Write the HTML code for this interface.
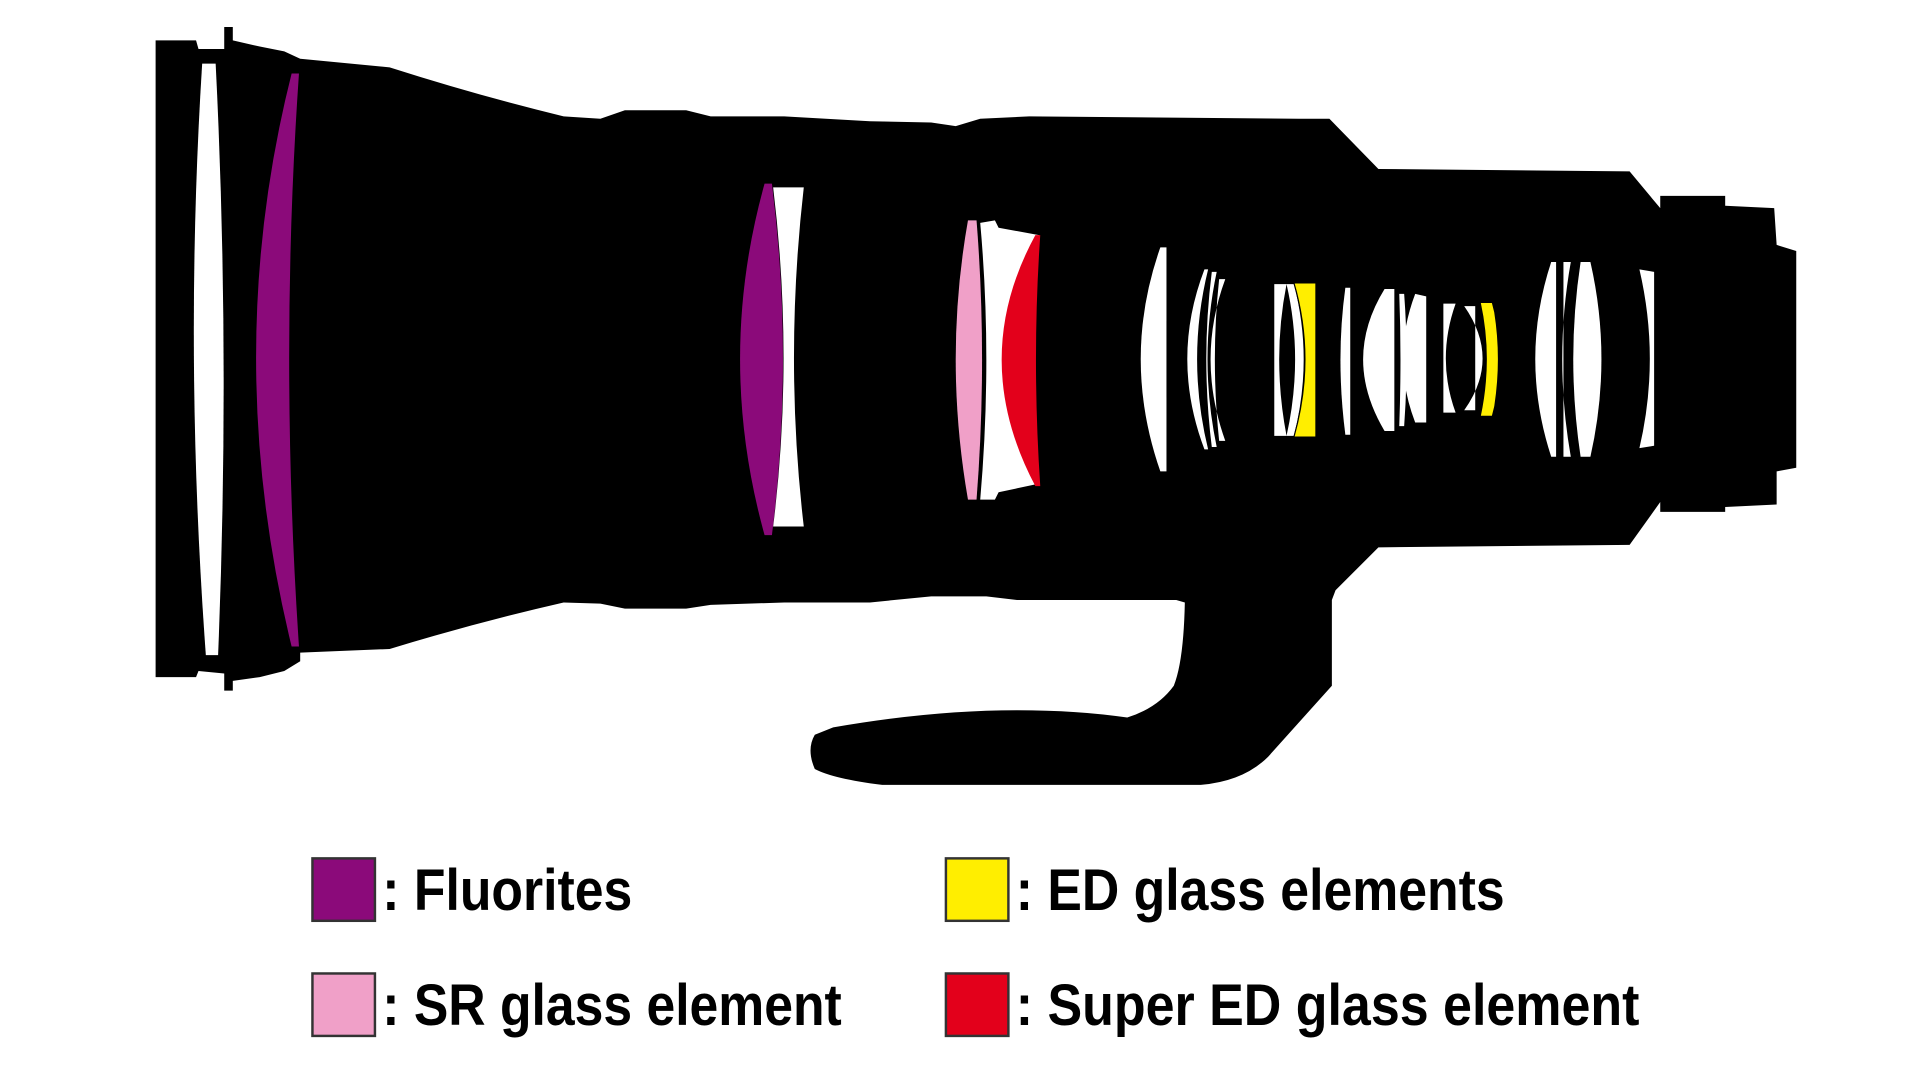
<!DOCTYPE html>
<html><head><meta charset="utf-8"><style>html,body{margin:0;padding:0;background:#fff}svg{display:block}</style></head>
<body>
<svg width="1920" height="1080" viewBox="0 0 1567 882" preserveAspectRatio="none" xmlns="http://www.w3.org/2000/svg">
<rect width="1567" height="882" fill="#fff"/>
<path fill="#000" d="M127,33 L160,33 L162,40 L183,40 L183,22 L190,22 L190,33 L212,38 L232,42 L245,48 L318,55 Q390,78 460,95 L490,97 L510,90 L560,90 L580,95 L640,95 L710,99 L760,100 L780,103 L800,97 L840,95 L1060,97 L1085,97 L1125,138 L1330,140 L1355,170 L1355,160 L1408,160 L1408,168 L1448,170 L1450,200 L1466,205 L1466,382 L1450,385 L1450,412 L1408,414 L1408,418 L1355,418 L1355,410 L1330,445 L1125,447 L1090,482 L1087,490 L1087,560 L1035,618 Q1015,638 980,641 L720,641 Q680,636 665,628 Q658,612 665,600 L680,594 Q760,580 830,580 Q880,580 920,586 Q945,578 958,560 Q966,540 967,492 L960,490 L830,490 L805,487 L760,487 L710,492 L640,492 L580,494 L560,497 L510,497 L490,493 L460,492 Q390,508 318,530 L245,533 L245,540 L232,548 L212,553 L190,556 L190,564 L183,564 L183,550 L162,548 L160,553 L127,553 Z"/>
<path fill="#fff" d="M165,52 L176,52 Q188,290 178,535 L168,535 Q150,290 165,52 Z"/>
<path fill="#8b0a7a" d="M238,60 L244,60 Q228,290 244,528 L238,528 Q180,290 238,60 Z"/>
<path fill="#8b0a7a" d="M624,150 L630,150 Q648,293 630,437 L624,437 Q584,293 624,150 Z"/>
<path fill="#fff" d="M631,153 L656,153 Q640,293 656,430 L631,430 Q648,293 631,153 Z"/>
<path fill="#f0a0c8" d="M790,180 L797,180 Q806,293 797,408 L790,408 Q770,293 790,180 Z"/>
<path fill="#fff" d="M800,182 L812,180 L815,186 L848,192 Q814,293 848,395 L815,402 L812,408 L800,408 Q810,293 800,182 Z"/>
<path fill="#e3001b" d="M845,192 L849,192 Q842,293 849,397 L845,397 Q790,293 845,192 Z"/>
<path fill="#fff" d="M947,202 L952,202 L952,385 L947,385 Q915,293 947,202 Z"/>
<path fill="#fff" d="M983,220 L986,220 Q968,293 986,367 L983,367 Q955,293 983,220 Z"/>
<path fill="#fff" d="M989,222 L993,222 Q978,293 993,365 L989,365 Q980,293 989,222 Z"/>
<path fill="#fff" d="M995,228 L1000,228 Q976,293 1000,360 L995,360 Q988,293 995,228 Z"/>
<path fill="#fff" d="M1040,232 L1050,232 Q1038,293 1050,356 L1040,356 Z"/>
<path fill="#fff" d="M1050,232 L1056,232 Q1072,293 1056,356 L1050,356 Q1064,293 1050,232 Z"/>
<path fill="#ffee00" stroke="#000" stroke-width="1" d="M1056,231 L1074,231 L1074,357 L1056,357 Q1074,293 1056,231 Z"/>
<path fill="#fff" d="M1098,235 L1102,235 L1102,355 L1098,355 Q1090,293 1098,235 Z"/>
<path fill="#fff" d="M1130,236 L1138,236 L1138,352 L1130,352 Q1095,293 1130,236 Z"/>
<path fill="#fff" d="M1142,240 L1146,240 Q1150,293 1146,348 L1142,348 Q1144,293 1142,240 Z"/>
<path fill="#fff" d="M1155,240 L1164,242 L1164,345 L1155,345 Q1135,293 1155,240 Z"/>
<path fill="#fff" d="M1178,248 L1188,248 Q1172,293 1188,337 L1178,337 Z"/>
<path fill="#fff" d="M1195,250 L1204,250 L1204,335 L1195,335 Q1225,293 1195,250 Z"/>
<path fill="#ffee00" stroke="#000" stroke-width="1" d="M1208,247 L1218,247 L1220,255 Q1226,293 1220,332 L1218,340 L1208,340 Q1218,293 1208,247 Z"/>
<path fill="#fff" d="M1266,214 L1270,214 L1270,373 L1266,373 Q1240,293 1266,214 Z"/>
<path fill="#fff" d="M1276,214 L1282,214 Q1268,293 1282,373 L1276,373 Z"/>
<path fill="#fff" d="M1290,214 L1298,214 Q1316,293 1298,373 L1290,373 Q1278,293 1290,214 Z"/>
<path fill="#fff" d="M1338,220 L1350,222 L1350,364 L1338,366 Q1355,293 1338,220 Z"/>
<g stroke="#333" stroke-width="2">
<rect x="255" y="701" width="51" height="51" fill="#8b0a7a"/>
<rect x="255" y="795" width="51" height="51" fill="#f0a0c8"/>
<rect x="772" y="701" width="51" height="51" fill="#ffee00"/>
<rect x="772" y="795" width="51" height="51" fill="#e3001b"/>
</g>
<g font-family="Liberation Sans, sans-serif" font-weight="bold" font-size="48" fill="#000">
<text x="312" y="743" textLength="204" lengthAdjust="spacingAndGlyphs">: Fluorites</text>
<text x="312" y="837" textLength="375" lengthAdjust="spacingAndGlyphs">: SR glass element</text>
<text x="829" y="743" textLength="399" lengthAdjust="spacingAndGlyphs">: ED glass elements</text>
<text x="829" y="837" textLength="509" lengthAdjust="spacingAndGlyphs">: Super ED glass element</text>
</g>
</svg>
</body></html>
